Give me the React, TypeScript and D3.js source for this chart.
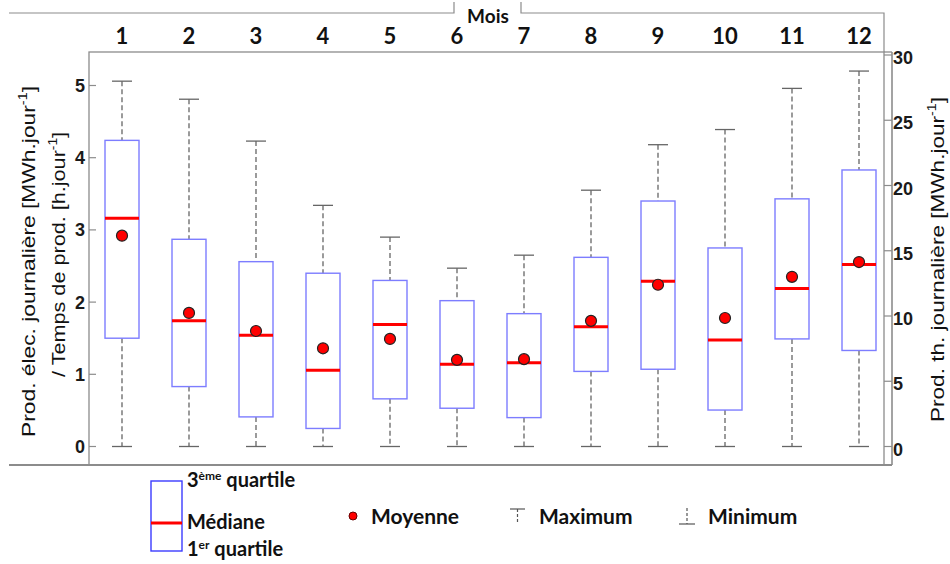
import React from "react";
import * as d3 from "d3";

const months = [1, 2, 3, 4, 5, 6, 7, 8, 9, 10, 11, 12];
const maxVals = [5.06, 4.81, 4.23, 3.34, 2.9, 2.47, 2.65, 3.55, 4.18, 4.39, 4.96, 5.2];
const q3Vals = [4.24, 2.87, 2.56, 2.4, 2.3, 2.02, 1.84, 2.62, 3.4, 2.75, 3.43, 3.83];
const medianVals = [3.16, 1.74, 1.54, 1.055, 1.69, 1.14, 1.16, 1.66, 2.29, 1.475, 2.19, 2.52];
const meanVals = [2.92, 1.85, 1.6, 1.36, 1.49, 1.2, 1.21, 1.74, 2.24, 1.78, 2.35, 2.555];
const q1Vals = [1.5, 0.83, 0.41, 0.25, 0.66, 0.53, 0.4, 1.04, 1.07, 0.505, 1.49, 1.33];
const minVals = [0, 0, 0, 0, 0, 0, 0, 0, 0, 0, 0, 0];
const leftTicks = [0, 1, 2, 3, 4, 5];
const rightTicks = [0, 5, 10, 15, 20, 25, 30];

const W = 950;
const H = 564;
const plotL = 89;
const plotR = 884;
const plotT = 52;
const plotB = 465;
const axR = 892;

const BOX = "#7d7dff";
const GRAY = "#8c8c8c";
const labelFont = "'Liberation Sans', Arial, sans-serif";
const boldFont = "Lato, 'Open Sans', sans-serif";

export default function App() {
  const x = d3.scaleLinear().domain([1, 12]).range([122, 859]);
  const y = d3.scaleLinear().domain([0, 5]).range([446.5, 85.5]);
  const yr = d3.scaleLinear().domain([0, 30]).range([446.5, 55]);
  const bw = 17;
  const cw = 10;

  return (
    <svg
      width={W}
      height={H}
      style={{ position: "absolute", left: 0, top: 0, background: "#fff" }}
    >
      {/* outer frame */}
      <path
        d={`M9,13 H454 V2 M521,2 V13 H${plotR} V${plotT}`}
        fill="none"
        stroke={GRAY}
        strokeWidth={1.2}
      />
      <text x={488} y={23} textAnchor="middle" fontFamily={boldFont} fontWeight="bold" fontSize={19} fill="#111">
        Mois
      </text>
      {/* plot frame */}
      <rect x={plotL} y={plotT} width={plotR - plotL} height={plotB - plotT} fill="none" stroke={GRAY} strokeWidth={1.3} />
      <line x1={axR} x2={axR} y1={plotT} y2={plotB} stroke={GRAY} strokeWidth={1.6} />
      <line x1={plotR} x2={axR} y1={plotT} y2={plotT} stroke={GRAY} strokeWidth={1.3} />
      <line x1={9} x2={axR} y1={plotB} y2={plotB} stroke={GRAY} strokeWidth={2} />

      {/* month labels */}
      {months.map((m) => (
        <text key={"m" + m} x={x(m)} y={44} textAnchor="middle" fontFamily={boldFont} fontWeight="bold" fontSize={22} fill="#111">
          {m}
        </text>
      ))}

      {/* left axis */}
      {leftTicks.map((t) => (
        <g key={"l" + t}>
          <line x1={plotL} x2={plotL + 7} y1={y(t)} y2={y(t)} stroke={GRAY} strokeWidth={1.2} />
          <text x={85} y={y(t) + 6.5} textAnchor="end" fontFamily={labelFont} fontWeight="bold" fontSize={18} fill="#1a1a1a">
            {t}
          </text>
        </g>
      ))}
      {/* right axis */}
      {rightTicks.map((t) => (
        <g key={"r" + t}>
          <line x1={plotR} x2={axR} y1={yr(t)} y2={yr(t)} stroke={GRAY} strokeWidth={1.2} />
          <text x={893} y={yr(t) + 9} textAnchor="start" fontFamily={labelFont} fontWeight="bold" fontSize={18} fill="#1a1a1a">
            {t}
          </text>
        </g>
      ))}

      {/* axis titles */}
      <g transform="translate(28,261.5) rotate(-90)">
        <text textAnchor="middle" y={7} fontFamily={labelFont} fontSize={19} fill="#111" textLength={351} lengthAdjust="spacingAndGlyphs">
          Prod. élec. journalière [MWh.jour<tspan dy={-8} fontSize={12}>-1</tspan><tspan dy={8}>]</tspan>
        </text>
      </g>
      <g transform="translate(58,254.5) rotate(-90)">
        <text textAnchor="middle" y={7} fontFamily={labelFont} fontSize={19} fill="#111" textLength={245} lengthAdjust="spacingAndGlyphs">
          / Temps de prod. [h.jour<tspan dy={-8} fontSize={12}>-1</tspan><tspan dy={8}>]</tspan>
        </text>
      </g>
      <g transform="translate(937,259.5) rotate(-90)">
        <text textAnchor="middle" y={7} fontFamily={labelFont} fontSize={19} fill="#111" textLength={325} lengthAdjust="spacingAndGlyphs">
          Prod. th. journalière [MWh.jour<tspan dy={-8} fontSize={12}>-1</tspan><tspan dy={8}>]</tspan>
        </text>
      </g>

      {/* boxes */}
      {months.map((m, i) => {
        const cx = x(m);
        return (
          <g key={"b" + m}>
            <line x1={cx} x2={cx} y1={y(maxVals[i])} y2={y(q3Vals[i])} stroke="#666" strokeWidth={1.3} strokeDasharray="5,3" />
            <line x1={cx} x2={cx} y1={y(q1Vals[i])} y2={y(minVals[i])} stroke="#666" strokeWidth={1.3} strokeDasharray="5,3" />
            <line x1={cx - cw} x2={cx + cw} y1={y(maxVals[i])} y2={y(maxVals[i])} stroke="#666" strokeWidth={1.3} />
            <line x1={cx - cw} x2={cx + cw} y1={y(minVals[i])} y2={y(minVals[i])} stroke="#666" strokeWidth={1.3} />
            <rect
              x={cx - bw}
              y={y(q3Vals[i])}
              width={2 * bw}
              height={y(q1Vals[i]) - y(q3Vals[i])}
              fill="none"
              stroke={BOX}
              strokeWidth={1.4}
            />
            <line x1={cx - bw} x2={cx + bw} y1={y(medianVals[i])} y2={y(medianVals[i])} stroke="#ff0000" strokeWidth={3} />
            <circle cx={cx} cy={y(meanVals[i])} r={5.5} fill="#ff0000" stroke="#222" strokeWidth={1.2} />
          </g>
        );
      })}

      {/* legend */}
      <rect x={151} y={481} width={31} height={70} fill="none" stroke="#3b3bff" strokeWidth={1.4} />
      <line x1={151} x2={182} y1={523} y2={523} stroke="#ff0000" strokeWidth={3} />
      <text x={187} y={487} fontFamily={boldFont} fontWeight="bold" fontSize={20} fill="#111">
        3<tspan dy={-7} fontSize={12}>ème</tspan><tspan dy={7}> quartile</tspan>
      </text>
      <text x={187} y={529} fontFamily={boldFont} fontWeight="bold" fontSize={20} fill="#111">
        Médiane
      </text>
      <text x={187} y={556} fontFamily={boldFont} fontWeight="bold" fontSize={20} fill="#111">
        1<tspan dy={-7} fontSize={12}>er</tspan><tspan dy={7}> quartile</tspan>
      </text>

      <circle cx={353} cy={516} r={4} fill="#ff0000" stroke="#600" strokeWidth={1} />
      <text x={371} y={524} fontFamily={boldFont} fontWeight="bold" fontSize={21} fill="#111">
        Moyenne
      </text>

      <line x1={510} x2={525} y1={509} y2={509} stroke="#555" strokeWidth={1.2} />
      <line x1={517.5} x2={517.5} y1={509} y2={524} stroke="#555" strokeWidth={1.2} strokeDasharray="3,2" />
      <text x={539} y={524} fontFamily={boldFont} fontWeight="bold" fontSize={21} fill="#111">
        Maximum
      </text>

      <line x1={679} x2={695} y1={524} y2={524} stroke="#555" strokeWidth={1.2} />
      <line x1={687} x2={687} y1={508} y2={524} stroke="#555" strokeWidth={1.2} strokeDasharray="3,2" />
      <text x={708} y={524} fontFamily={boldFont} fontWeight="bold" fontSize={21} fill="#111">
        Minimum
      </text>
    </svg>
  );
}
